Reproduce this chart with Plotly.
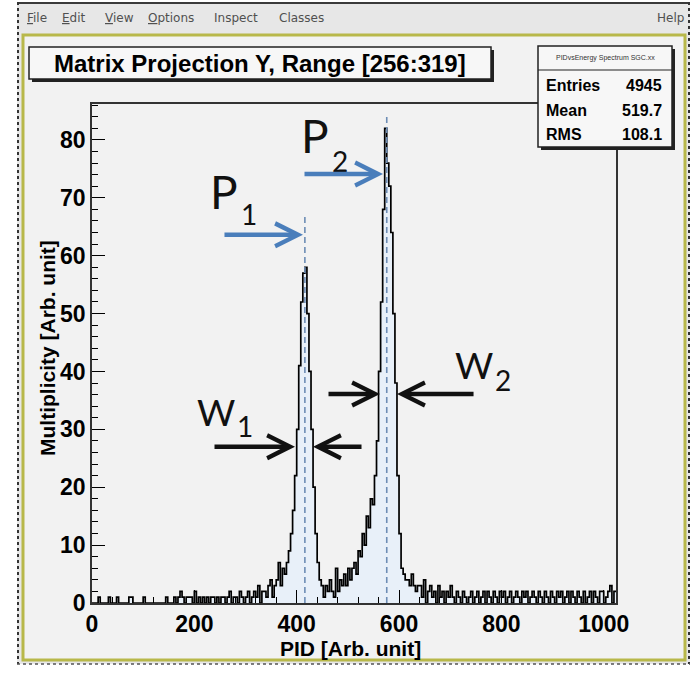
import numpy as np
import plotly.graph_objects as go

# ---- histogram content (4-unit PID bins, 0..1024) ----
BIN_WIDTH = 4
X_MAX = 1024
Y_MAX = 86.2

bg_0_320 = [
    0, 0, 0, 1, 0, 0, 0, 0, 1, 0, 0, 0, 1, 0, 0, 0,
    0, 0, 1, 1, 0, 0, 0, 0, 0, 1, 0, 0, 0, 0, 0, 0,
    0, 0, 0, 0, 1, 0, 0, 0, 1, 0, 1, 2, 1, 0, 1, 1,
    1, 0, 2, 0, 1, 0, 1, 0, 1, 0, 1, 1, 0, 1, 0, 1,
    1, 0, 1, 2, 0, 1, 1, 0, 2, 1, 0, 1, 2, 0, 1, 2,
]
peak1_320_448 = [
    1, 3, 0, 2, 2, 1, 3, 4, 1, 3, 4, 7, 3, 6, 5, 7,
    9, 12, 16, 22, 30, 41, 52, 57, 58, 50, 40, 30, 20, 12, 7, 4,
]
valley_448_512 = [3, 1, 3, 2, 4, 2, 1, 6, 2, 4, 3, 5, 3, 6, 4, 6]
peak2_512_640 = [
    7, 5, 9, 8, 12, 10, 15, 13, 18, 17, 22, 28, 40, 52, 68, 82,
    76, 72, 64, 50, 38, 22, 12, 6, 5, 4, 4, 3, 5, 3, 2, 3,
]
tail_640_1024 = [
    3, 1, 4, 0, 2, 3, 1, 2, 0, 3, 1, 2, 0, 2, 1, 3,
    1, 0, 2, 1, 0, 2, 1, 0, 1, 2, 0, 1, 2, 0, 1, 2,
    0, 2, 1, 0, 2, 1, 0, 2, 1, 2, 0, 1, 2, 0, 1, 2,
    1, 0, 2, 1, 2, 0, 1, 2, 1, 0, 2, 1, 0, 2, 1, 0,
    2, 1, 0, 2, 1, 2, 0, 1, 2, 0, 2, 1, 0, 2, 1, 0,
    2, 0, 1, 2, 0, 2, 1, 0, 2, 2, 0, 1, 2, 3, 0, 2,
]

# peak markers (PID position, height of the dashed guide)
peak_x = [416, 576]
peak_guide_top = [67, 84.5]

# statistics box
stats_title = "PIDvsEnergy Spectrum SGC.xx"
stats_labels = ["Entries", "Mean", "RMS"]
stats_values = ["4945", "519.7", "108.1"]

title_text = "Matrix Projection Y, Range [256:319]"
x_title = "PID [Arb. unit]"
y_title = "Multiplicity [Arb. unit]"
menu_items = [("<u>F</u>ile", 25), ("<u>E</u>dit", 60), ("<u>V</u>iew", 103),
              ("<u>O</u>ptions", 146), ("Inspect", 212), ("Classes", 277)]

counts = bg_0_320 + peak1_320_448 + valley_448_512 + peak2_512_640 + tail_640_1024
edges = np.arange(0, X_MAX + BIN_WIDTH, BIN_WIDTH)
step_y = counts + [counts[-1]]

# ---- page geometry helpers (pixel -> paper fraction) ----
W, H = 692, 673
L, R, T, B = 92, 616, 104, 603


def fx(px):
    return (px - L) / (R - L)


def fy(py):
    return (B - py) / (B - T)


fig = go.Figure()

fig.add_trace(go.Scatter(
    x=edges, y=step_y, mode="lines",
    line=dict(color="black", width=1.7, shape="hv"),
    fill="tozeroy", fillcolor="#e8f0f9", hoverinfo="skip"))

for xp, top in zip(peak_x, peak_guide_top):
    fig.add_trace(go.Scatter(
        x=[xp, xp], y=[0, top], mode="lines",
        line=dict(color="#6d8db5", width=1.6, dash="6px,4px"),
        hoverinfo="skip"))

shapes = []
# window chrome
shapes.append(dict(type="rect", xref="paper", yref="paper", layer="below",
                   x0=fx(17), x1=fx(690), y0=fy(2), y1=fy(664),
                   fillcolor="#e7e7e7", line=dict(width=0)))
shapes.append(dict(type="line", xref="paper", yref="paper", layer="below",
                   x0=fx(17), x1=fx(690), y0=fy(3), y1=fy(3),
                   line=dict(color="#3a3a3a", width=2)))
shapes.append(dict(type="rect", xref="paper", yref="paper", layer="below",
                   x0=fx(23), x1=fx(685), y0=fy(35), y1=fy(660),
                   fillcolor="#f2f2f2", line=dict(color="#b8b84a", width=3)))
for xx in (18, 689):
    shapes.append(dict(type="line", xref="paper", yref="paper", layer="below",
                       x0=fx(xx), x1=fx(xx), y0=fy(2), y1=fy(664),
                       line=dict(color="#333333", width=2, dash="dot")))
shapes.append(dict(type="line", xref="paper", yref="paper", layer="below",
                   x0=fx(17), x1=fx(690), y0=fy(664), y1=fy(664),
                   line=dict(color="#555555", width=1.5, dash="dot")))

# title box with drop shadow
shapes.append(dict(type="rect", xref="paper", yref="paper", layer="above",
                   x0=fx(32), x1=fx(494), y0=fy(50), y1=fy(82),
                   fillcolor="#222222", line=dict(width=0)))
shapes.append(dict(type="rect", xref="paper", yref="paper", layer="above",
                   x0=fx(29), x1=fx(491), y0=fy(47), y1=fy(79),
                   fillcolor="#f7f7f7", line=dict(color="#222222", width=1.5)))
# stats box with drop shadow
shapes.append(dict(type="rect", xref="paper", yref="paper", layer="above",
                   x0=fx(541), x1=fx(675), y0=fy(49), y1=fy(150),
                   fillcolor="#222222", line=dict(width=0)))
shapes.append(dict(type="rect", xref="paper", yref="paper", layer="above",
                   x0=fx(538), x1=fx(672), y0=fy(46), y1=fy(147),
                   fillcolor="#f7f7f7", line=dict(color="#222222", width=1.5)))
shapes.append(dict(type="line", xref="paper", yref="paper", layer="above",
                   x0=fx(538), x1=fx(672), y0=fy(70), y1=fy(70),
                   line=dict(color="#222222", width=1.2)))

ann = []
# menu bar
for label, xpos in menu_items:
    ann.append(dict(text=label, xref="paper", yref="paper", x=fx(xpos), y=fy(18),
                    xanchor="left", yanchor="middle", showarrow=False,
                    font=dict(family="DejaVu Sans", size=12, color="#505050")))
ann.append(dict(text="Help", xref="paper", yref="paper", x=fx(686), y=fy(18),
                xanchor="right", yanchor="middle", showarrow=False,
                font=dict(family="DejaVu Sans", size=12, color="#505050")))

# title
ann.append(dict(text=title_text, xref="paper", yref="paper", x=fx(260), y=fy(63),
                xanchor="center", yanchor="middle", showarrow=False,
                font=dict(family="Liberation Sans", size=24, color="black", weight="bold")))

# stats text
ann.append(dict(text=stats_title, xref="paper", yref="paper", x=fx(605), y=fy(58),
                xanchor="center", yanchor="middle", showarrow=False,
                font=dict(family="Liberation Sans", size=7, color="#333333")))
for i, (lab, val) in enumerate(zip(stats_labels, stats_values)):
    yy = 86 + 24.5 * i
    ann.append(dict(text=lab, xref="paper", yref="paper", x=fx(544), y=fy(yy),
                    xanchor="left", yanchor="middle", showarrow=False,
                    font=dict(family="Liberation Sans", size=16, color="black", weight="bold")))
    ann.append(dict(text=val, xref="paper", yref="paper", x=fx(664), y=fy(yy),
                    xanchor="right", yanchor="middle", showarrow=False,
                    font=dict(family="Liberation Sans", size=16, color="black", weight="bold")))

# axis titles
ann.append(dict(text=y_title, xref="paper", yref="paper", x=fx(47), y=fy(348),
                textangle=-90, xanchor="center", yanchor="middle", showarrow=False,
                font=dict(family="Liberation Sans", size=21, color="black", weight="bold")))
ann.append(dict(text=x_title, xref="paper", yref="paper", x=fx(350), y=fy(648),
                xanchor="center", yanchor="middle", showarrow=False,
                font=dict(family="Liberation Sans", size=21, color="black", weight="bold")))

# peak labels P1, P2 and width labels W1, W2
big = dict(family="Lato", size=46, color="#111111")
sub = dict(family="Lato", size=28, color="#111111")
wfont = dict(family="Lato", size=37, color="#111111")
for txt, xpos, ypos, f in [("P", 224, 192, big), ("1", 249, 214, sub),
                           ("P", 315, 136, big), ("2", 340, 161, sub),
                           ("W", 216, 411, wfont), ("1", 245, 426, sub),
                           ("W", 474, 364, wfont), ("2", 503, 380, sub)]:
    ann.append(dict(text=txt, xref="paper", yref="paper", x=fx(xpos), y=fy(ypos),
                    xanchor="center", yanchor="middle", showarrow=False, font=f))

# arrows: (tip x, tip y, tail offset px, colour)
arrow_specs = [
    (412.3, 63.6, -80, "#4a7ebb"),
    (568.7, 74.1, -80, "#4a7ebb"),
    (396.7, 27.0, -82, "#111111"),
    (431.9, 27.0, 50, "#111111"),
    (562.8, 36.1, -53, "#111111"),
    (596.1, 36.1, 78, "#111111"),
]
for tx, ty, off, col in arrow_specs:
    ann.append(dict(text="", x=tx, y=ty, xref="x", yref="y", ax=off, ay=0,
                    showarrow=True, arrowhead=5, arrowsize=1.0, arrowwidth=4.5,
                    arrowcolor=col, standoff=0))

fig.update_layout(
    width=W, height=H,
    margin=dict(l=L, r=W - R, t=T, b=H - B),
    paper_bgcolor="white", plot_bgcolor="rgba(0,0,0,0)",
    showlegend=False, shapes=shapes, annotations=ann,
    xaxis=dict(range=[0, X_MAX], dtick=200, tick0=0, ticks="inside", ticklen=13,
               tickwidth=1.2, tickcolor="black", showgrid=False, zeroline=False,
               showline=True, linecolor="#333333", linewidth=1.5, mirror=True,
               minor=dict(dtick=40, ticks="inside", ticklen=6, tickcolor="black"),
               tickfont=dict(family="Liberation Sans", size=23, color="black", weight="bold")),
    yaxis=dict(range=[0, Y_MAX], dtick=10, tick0=0, ticks="inside", ticklen=13,
               tickwidth=1.2, tickcolor="black", showgrid=False, zeroline=False,
               showline=True, linecolor="#333333", linewidth=1.5, mirror=True,
               minor=dict(dtick=2, ticks="inside", ticklen=6, tickcolor="black"),
               tickfont=dict(family="Liberation Sans", size=23, color="black", weight="bold")),
)

fig.write_html("out.html")
